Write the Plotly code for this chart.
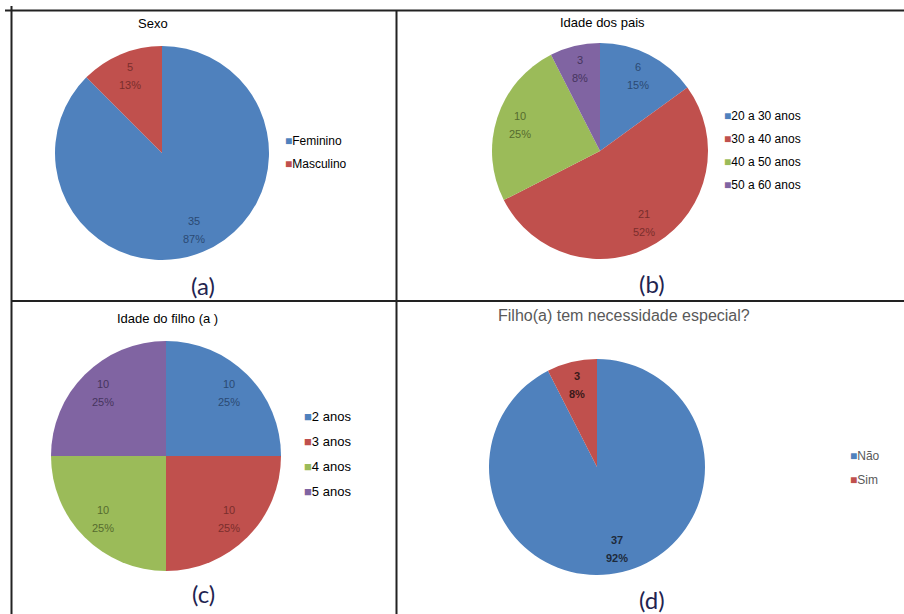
import math
import plotly.graph_objects as go

W, H = 904, 614

# ---- data -------------------------------------------------------------
sexo_labels = ["Feminino", "Masculino"]
sexo_values = [35, 5]
sexo_pct = ["87%", "13%"]

pais_labels = ["20 a 30 anos", "30 a 40 anos", "40 a 50 anos", "50 a 60 anos"]
pais_values = [6, 21, 10, 3]
pais_pct = ["15%", "52%", "25%", "8%"]

filho_labels = ["2 anos", "3 anos", "4 anos", "5 anos"]
filho_values = [10, 10, 10, 10]
filho_pct = ["25%", "25%", "25%", "25%"]

nec_labels = ["Não", "Sim"]
nec_values = [37, 3]
nec_pct = ["92%", "8%"]

COLORS = ["#4F81BD", "#C0504D", "#9BBB59", "#8064A2"]
DARK = ["#2B4A73", "#7A2E2C", "#566B2E", "#46345E"]
FONT = "Liberation Sans, Arial"


def px_x(v):
    return v / W


def px_y(v):
    return 1 - v / H


def dom(cx, cy, r):
    return dict(x=[px_x(cx - r), px_x(cx + r)], y=[px_y(cy + r), px_y(cy - r)])


fig = go.Figure()

panels = [
    # values, labels, pct, centre/radius, legend, label colours, bold labels
    (sexo_values, sexo_labels, sexo_pct, (162, 153, 107), "legend", DARK, False),
    (pais_values, pais_labels, pais_pct, (600, 151, 108), "legend2", DARK, False),
    (filho_values, filho_labels, filho_pct, (166, 456, 115), "legend3", DARK, False),
    (nec_values, nec_labels, nec_pct, (597, 467, 108), "legend4", ["#1E2A3A", "#3A1A1A"], True),
]

for vals, labs, pcts, (cx, cy, r), leg, tcol, bold in panels:
    n = len(vals)
    fig.add_trace(go.Pie(
        values=vals, labels=labs, textinfo="none",
        sort=False, direction="clockwise", rotation=0,
        marker=dict(colors=COLORS[:n], line=dict(width=0)),
        domain=dom(cx, cy, r), showlegend=False, hoverinfo="label+value+percent",
    ))

    # data labels: value and percentage placed towards the rim of each slice
    total = sum(vals)
    cum = 0
    for i, (v, p) in enumerate(zip(vals, pcts)):
        theta = 2 * math.pi * (cum + v / 2) / total
        cum += v
        lx = cx + 0.78 * r * math.sin(theta)
        ly = cy - 0.78 * r * math.cos(theta)
        for txt, dy in ((str(v), -9), (p, 9)):
            fig.add_annotation(
                text=f"<b>{txt}</b>" if bold else txt,
                x=px_x(lx), y=px_y(ly + dy), xref="paper", yref="paper",
                showarrow=False, xanchor="center", yanchor="middle",
                font=dict(family=FONT, size=11, color=tcol[i]),
            )

    # legend entries: coloured square glyph followed by the category
    for i, lab in enumerate(labs):
        fig.add_trace(go.Scatter(
            x=[None], y=[None], mode="markers",
            name=f"<span style='color:{COLORS[i]}'>■</span>{lab}",
            marker=dict(size=1, color="rgba(0,0,0,0)"),
            legend=leg, legendgroup=f"{leg}_{i}", showlegend=True,
        ))

leg_common = dict(bgcolor="rgba(0,0,0,0)", itemwidth=30,
                  xanchor="left", yanchor="top", itemclick=False, itemdoubleclick=False)
fig.update_layout(
    width=W, height=H, margin=dict(l=0, r=0, t=0, b=0),
    paper_bgcolor="white", plot_bgcolor="white",
    xaxis=dict(visible=False), yaxis=dict(visible=False),
    legend=dict(x=px_x(245), y=px_y(126), tracegroupgap=4,
                font=dict(family=FONT, size=12, color="#000"), **leg_common),
    legend2=dict(x=px_x(684), y=px_y(101), tracegroupgap=4,
                 font=dict(family=FONT, size=12, color="#000"), **leg_common),
    legend3=dict(x=px_x(264), y=px_y(401), tracegroupgap=5,
                 font=dict(family=FONT, size=13, color="#000"), **leg_common),
    legend4=dict(x=px_x(810), y=px_y(441), tracegroupgap=5,
                 font=dict(family=FONT, size=12, color="#595959"), **leg_common),
)

# chart titles
titles = [
    ("Sexo", 153, 23, 13, "#000"),
    ("Idade dos pais", 602, 22, 13, "#000"),
    ("Idade do filho (a )", 167, 318, 13, "#000"),
    ("Filho(a) tem necessidade especial?", 624, 315, 16, "#595959"),
]
for t, x, y, s, c in titles:
    fig.add_annotation(text=t, x=px_x(x), y=px_y(y), xref="paper", yref="paper",
                       showarrow=False, xanchor="center", yanchor="middle",
                       font=dict(family=FONT, size=s, color=c))

# panel tags
for t, x, y in [("(a)", 203, 285), ("(b)", 652, 283), ("(c)", 203, 593), ("(d)", 652, 599)]:
    fig.add_annotation(text=t, x=px_x(x), y=px_y(y), xref="paper", yref="paper",
                       showarrow=False, xanchor="center", yanchor="middle",
                       font=dict(family="Lato, Open Sans", size=24, color="#1F2450"))

# table borders
line = dict(color="#222", width=2)
for x0, y0, x1, y1 in [
    (5, 10.5, 904, 10.5),     # top
    (11.5, 6, 11.5, 614),     # left
    (396.5, 10, 396.5, 614),  # vertical divider
    (11, 301, 904, 301),      # horizontal divider
]:
    fig.add_shape(type="line", xref="paper", yref="paper",
                  x0=px_x(x0), y0=px_y(y0), x1=px_x(x1), y1=px_y(y1), line=line)

fig.write_html("out.html")
